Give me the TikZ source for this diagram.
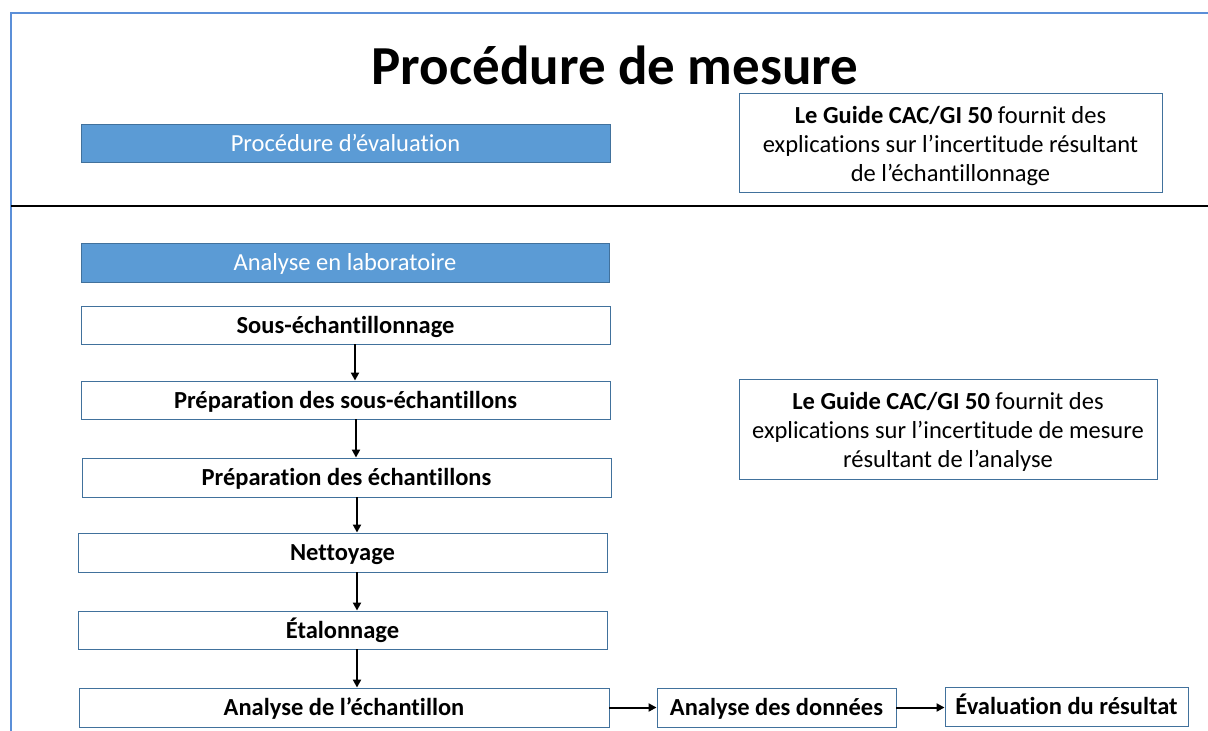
\documentclass[tikz,border=0pt]{standalone}
\usepackage{fontspec}
\setmainfont[Ligatures={NoCommon}]{Carlito}
\usetikzlibrary{arrows.meta,calc}
\definecolor{framblue}{HTML}{5B8FD8}
\definecolor{barfill}{HTML}{5B9BD5}
\definecolor{barline}{HTML}{41719C}
\newcommand{\notetext}[1]{\raisebox{-4pt}[\height][\depth]{\begin{tabular}{@{}c@{}}#1\end{tabular}}}
\tikzset{
  bar/.style={draw=barline, line width=0.8pt, fill=barfill, text=white, minimum width=#1, minimum height=38pt, inner sep=0pt, text height=16pt, text depth=0pt, font=\fontsize{24.5}{28}\selectfont},
  stepbox/.style={draw=barline, line width=0.9pt, fill=white, minimum width=529pt, minimum height=38pt, inner sep=0pt, text height=16pt, text depth=0pt, font=\fontsize{24.5}{28}\selectfont\bfseries},
  smallbox/.style={draw=barline, line width=0.9pt, fill=white, minimum height=39pt, inner sep=0pt, text height=16pt, text depth=0pt, font=\fontsize{24.5}{28}\selectfont\bfseries},
  note/.style={draw=barline, line width=0.9pt, fill=white, inner sep=0pt, font=\fontsize{24.5}{29}\selectfont},
  arr/.style={line width=2pt, -{Triangle[length=8pt,width=8pt]}}
}
\begin{document}
\begin{tikzpicture}[x=1pt,y=-1pt]
\useasboundingbox (0,0) rectangle (1208,731);
% frame
\draw[framblue, line width=1.6pt] (11,731) -- (11,13) -- (1208,13);
\draw[black, line width=2.4pt] (11,206) -- (1208,206);
% title
\node[font=\fontsize{55}{60}\selectfont\bfseries] (title) at (615,65) {Procédure de mesure};
% top section
\node[bar=529pt] (eval) at (345.5,143) {Procédure d’évaluation};
\node[note, minimum width=423pt, minimum height=99pt] (n1) at (950.5,142.5) {\notetext{\textbf{Le Guide CAC/GI 50} fournit des\\explications sur l’incertitude résultant\\de l’échantillonnage}};
% lab section
\node[bar=528pt, minimum height=39pt] (lab) at (345,262.5) {Analyse en laboratoire};
\node[stepbox] (s1) at (345.5,325) {Sous-échantillonnage};
\node[stepbox] (s2) at (345.5,400) {Préparation des sous-échantillons};
\node[stepbox, minimum height=39pt] (s3) at (346.5,477.5) {Préparation des échantillons};
\node[stepbox, minimum height=39pt] (s4) at (342.5,552.5) {Nettoyage};
\node[stepbox] (s5) at (342.5,630) {Étalonnage};
\node[stepbox, minimum width=530pt, minimum height=39pt] (s6) at (344,707.5) {Analyse de l’échantillon};
\node[smallbox, minimum width=239pt] (d1) at (776.5,707.5) {Analyse des données};
\node[smallbox, minimum width=243pt] (d2) at (1066.5,706.5) {Évaluation du résultat};
\node[note, minimum width=418pt, minimum height=100pt] (n2) at (948,429) {\notetext{\textbf{Le Guide CAC/GI 50} fournit des\\explications sur l’incertitude de mesure\\résultant de l’analyse}};
% arrows
\coordinate (a1) at (355,0);
\coordinate (a2) at (356,0);
\coordinate (a3) at (357,0);
\draw[arr] (s1.south -| a1) -- (s2.north -| a1);
\draw[arr] (s2.south -| a2) -- (s3.north -| a2);
\draw[arr] (s3.south -| a3) -- (s4.north -| a3);
\draw[arr] (s4.south -| a3) -- (s5.north -| a3);
\draw[arr] (s5.south -| a3) -- (s6.north -| a3);
\draw[arr] (s6.east) -- (d1.west |- s6.east);
\draw[arr] (d1.east) -- (d2.west |- d1.east);
\end{tikzpicture}
\end{document}
